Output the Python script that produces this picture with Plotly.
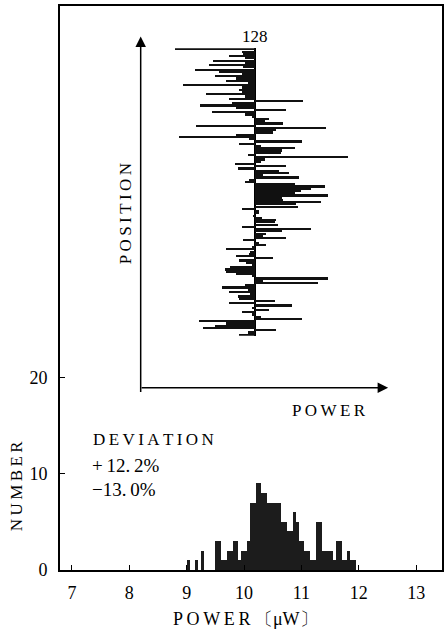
import plotly.graph_objects as go

# ---------------- data ----------------
# Histogram (bin centres in uW, 0.05 uW wide bins) and counts
hist_power = [9.025, 9.175, 9.275, 9.525, 9.575, 9.625, 9.675, 9.725, 9.775, 9.825,
              9.875, 9.925, 9.975, 10.025, 10.075, 10.125, 10.175, 10.225, 10.275, 10.325,
              10.375, 10.425, 10.475, 10.525, 10.575, 10.625, 10.675, 10.725, 10.775, 10.825,
              10.875, 10.925, 10.975, 11.025, 11.075, 11.125, 11.175, 11.225, 11.275, 11.325,
              11.375, 11.425, 11.475, 11.525, 11.575, 11.625, 11.675, 11.725, 11.775, 11.825,
              11.875, 11.925]
hist_count = [1, 1, 2, 3, 3, 1, 1, 2, 2, 3,
              3, 1, 2, 2, 3, 7, 7, 9, 9, 8,
              8, 7, 7, 7, 7, 7, 5, 5, 4, 4,
              6, 5, 3, 3, 2, 2, 1, 1, 5, 5,
              2, 2, 2, 2, 1, 3, 3, 1, 1, 2,
              1, 1]

# Inset: deviation (%) of each of the 128 positions, listed from position 128 down to 1
position = list(range(128, 0, -1))
deviation = [-10.5, -1.8, -1.6, -3.4, -1.3, -5.5, -1.4, -6.0, -1.6, -7.9,
             -4.8, -1.7, -5.3, -2.5, -3.8, -1.0, -9.5, -1.7, -2.2, -1.7,
             -6.4, -1.3, -3.4, 6.2, -3.1, -7.2, -2.6, 4.0, -5.6, -1.4,
             -0.5, 1.8, 1.3, 3.6, -7.7, 9.2, 2.7, 2.3, -2.6, -9.9,
             -0.8, 6.0, -2.1, 0.7, 5.2, 3.5, 3.3, -1.0, 12.1, 1.3,
             0.7, -2.7, 4.0, -2.3, 3.1, 4.4, 1.0, 5.7, -0.8, -1.4,
             5.2, 9.0, 7.3, 5.9, 5.2, 9.5, 3.4, 3.6, 8.6, 5.3,
             5.5, -1.7, 0.5, 0.4, -0.3, 0.9, 2.7, 2.6, 2.9, -1.7,
             7.3, 3.4, 1.4, 1.0, 4.0, -1.6, 0.4, 1.4, -0.4, -3.9,
             -0.7, -0.8, -2.6, 2.3, -2.1, -1.2, -0.4, -3.3, -4.0, -3.9,
             -2.5, -0.4, 9.5, 1.0, 8.1, -1.4, -4.4, -1.0, -3.4, -0.7,
             -2.3, -2.1, 2.5, -3.5, 4.8, -0.4, 1.7, -1.8, -0.4, 0.7,
             6.0, -7.3, -3.9, -5.3, -6.9, 2.7, -1.0, -2.1]

x_ticks = [7, 8, 9, 10, 11, 12, 13]
y_ticks = [0, 10, 20]

# ---------------- layout helpers ----------------
W, H = 444, 635
def px(x):
    return x / W
def py(y):
    return (H - y) / H

FONT = "Liberation Serif, DejaVu Serif, serif"
TS = "\u2009"  # thin space for letter spacing
def spaced(s):
    return TS.join(list(s))

fig = go.Figure()

fig.add_trace(go.Bar(x=hist_power, y=hist_count, width=0.05,
                     marker=dict(color="#1c1c1c", line=dict(width=0)),
                     xaxis="x", yaxis="y", showlegend=False))

fig.add_trace(go.Bar(x=deviation, y=position, orientation="h", base=0, width=0.75,
                     marker=dict(color="#111111", line=dict(width=0)),
                     xaxis="x2", yaxis="y2", showlegend=False))

axis_common = dict(showline=True, linecolor="black", linewidth=1.6, mirror=True,
                   showgrid=False, zeroline=False, ticks="inside", ticklen=5,
                   tickcolor="black", tickwidth=1.3,
                   tickfont=dict(family=FONT, size=18, color="black"))

fig.update_layout(
    width=W, height=H,
    margin=dict(l=0, r=0, t=0, b=0),
    paper_bgcolor="white", plot_bgcolor="white",
    bargap=0,
    xaxis=dict(domain=[px(60), px(443)], range=[6.79, 13.45], tickvals=x_ticks,
               anchor="y", ticklabelstandoff=6, **axis_common),
    yaxis=dict(domain=[py(579), py(6)], range=[0, 58.6], tickvals=y_ticks,
               anchor="x", ticklabelstandoff=7, **axis_common),
    xaxis2=dict(domain=[px(148.3), px(363.7)], range=[-14, 14], anchor="y2",
                showticklabels=False, showgrid=False, showline=False, ticks="",
                zeroline=True, zerolinecolor="black", zerolinewidth=1.8),
    yaxis2=dict(domain=[py(341.1), py(48.9)], range=[0.5, 128.5], anchor="x2",
                visible=False, showgrid=False),
)

ann = []
# arrows for inset axes (tail offsets in pixels)
ann.append(dict(x=px(141), y=py(37), ax=0, ay=357, xref="paper", yref="paper",
                axref="pixel", ayref="pixel", text="", showarrow=True, arrowhead=2,
                arrowsize=1.4, arrowwidth=1.5, arrowcolor="black"))
ann.append(dict(x=px(389), y=py(394), ax=-248, ay=0, xref="paper", yref="paper",
                axref="pixel", ayref="pixel", text="", showarrow=True, arrowhead=2,
                arrowsize=1.4, arrowwidth=1.5, arrowcolor="black"))

def text(t, x, y, size=17, angle=0, xanchor="center"):
    ann.append(dict(x=px(x), y=py(y), xref="paper", yref="paper", text=t, showarrow=False,
                    textangle=angle, xanchor=xanchor, yanchor="middle",
                    font=dict(family=FONT, size=size, color="black")))

text("128", 256, 37, size=17)
text(spaced("POSITION"), 126, 217, size=17, angle=-90)
text(spaced("POWER"), 330, 417, size=17)
text(spaced("DEVIATION"), 91, 447, size=17, xanchor="left")
text("+" + TS + "12." + TS + "2%", 90, 473, size=19, xanchor="left")
text("\u2212" + "13." + TS + "0%", 90, 497, size=19, xanchor="left")
text(spaced("NUMBER"), 16, 494, size=17, angle=-90)
text(spaced("POWER") + " 〔μW〕", 246, 629, size=18)

fig.update_layout(annotations=ann)

fig.write_html("out.html")
